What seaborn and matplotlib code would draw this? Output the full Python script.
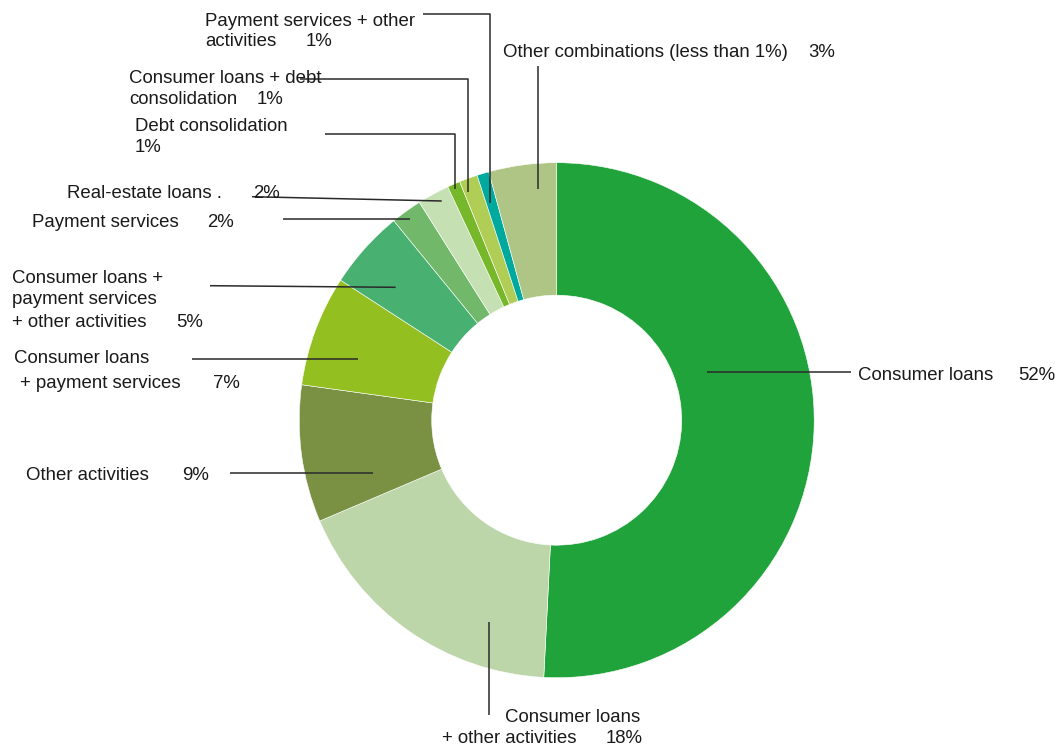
import matplotlib
matplotlib.use("Agg")
import matplotlib.pyplot as plt
import seaborn as sns

# slices, clockwise from 12 o'clock
categories = [
    "Consumer loans",
    "Consumer loans + other activities",
    "Other activities",
    "Consumer loans + payment services",
    "Consumer loans + payment services + other activities",
    "Payment services",
    "Real-estate loans",
    "Debt consolidation",
    "Consumer loans + debt consolidation",
    "Payment services + other activities",
    "Other combinations (less than 1%)",
]
# slice sizes as drawn (%), and the printed labels
shares = [50.8, 17.8, 8.6, 6.95, 4.95, 1.95, 2.0, 0.8, 1.15, 0.75, 4.25]
pct_labels = ["52%", "18%", "9%", "7%", "5%", "2%", "2%", "1%", "1%", "1%", "3%"]
colors = ["#20a33a", "#bcd6a9", "#7a9143", "#93c020", "#48b070", "#72b86b",
          "#c5e0b3", "#76b82a", "#b0cd55", "#00a99d", "#afc585"]

# text lines (x, baseline y, text), pct position, leader line points -- in pixels
layout = [
    ([(857.7, 380, "Consumer loans")], (1018.3, 380),
     [(706.7, 371.7), (850.7, 371.7)]),
    ([(640.5, 721.7, "Consumer loans|r"), (441.7, 743.3, "+ other activities")], (606.0, 743.3),
     [(489.3, 621.7), (489.3, 715)]),
    ([(26, 480, "Other activities")], (182.3, 480),
     [(230, 473.3), (373.3, 473.3)]),
    ([(14, 362.7, "Consumer loans"), (20, 387.7, "+ payment services")], (213.3, 387.7),
     [(192.3, 359.3), (357.7, 359.3)]),
    ([(12.3, 283.3, "Consumer loans +"), (12.3, 304.3, "payment services"),
      (12.3, 326.7, "+ other activities")], (176.7, 326.7),
     [(210, 285.7), (395.7, 287.3)]),
    ([(31.7, 226.7, "Payment services")], (206.7, 226.7),
     [(282.7, 219.3), (410, 219.3)]),
    ([(66.7, 198.3, "Real-estate loans .")], (253, 198.3),
     [(252, 196.7), (441.7, 201)]),
    ([(135, 130.7, "Debt consolidation")], (135, 152.3),
     [(325, 133.7), (455, 133.7), (455, 189)]),
    ([(129.3, 82.7, "Consumer loans + debt"), (129.3, 104.3, "consolidation")], (256.7, 104.3),
     [(300, 78.7), (468.3, 78.7), (468.3, 191.7)]),
    ([(205, 26, "Payment services + other"), (205, 46, "activities")], (306, 46),
     [(423, 14.3), (490, 14.3), (490, 203.3)]),
    ([(503.3, 56.7, "Other combinations (less than 1%)")], (808.3, 56.7),
     [(538.3, 65.7), (538.3, 189.3)]),
]

sns.set_theme(style="white")
plt.rcParams["font.family"] = ["Liberation Sans", "DejaVu Sans"]
palette = sns.color_palette(colors)

W, H = 1055, 749
fig = plt.figure(figsize=(W / 100, H / 100), dpi=100)
ax = fig.add_axes([0, 0, 1, 1])

cx, cy, r_out, r_in = 556.7, 420.2, 257.5, 125.0
ax.pie(shares, colors=palette, center=(cx, cy), radius=r_out,
       startangle=270, counterclock=True, frame=True,
       wedgeprops=dict(width=r_out - r_in, edgecolor="white", linewidth=0.4))

fs = 13.4
txt_color = "#1a1a1a"
for (lines, pct_pos, leader), pct in zip(layout, pct_labels):
    for x, y, t in lines:
        ha = "left"
        if t.endswith("|r"):
            t, ha = t[:-2], "right"
        ax.text(x, y, t, fontsize=fs, color=txt_color, ha=ha, va="baseline")
    ax.text(pct_pos[0], pct_pos[1], pct, fontsize=fs, color=txt_color,
            ha="left", va="baseline")
    xs = [p[0] for p in leader]
    ys = [p[1] for p in leader]
    ax.plot(xs, ys, color="#2a2a2a", linewidth=1.1, solid_capstyle="butt")

ax.set_xlim(0, W)
ax.set_ylim(H, 0)
ax.set_aspect("equal")
ax.set_axis_off()

fig.savefig("out.png", dpi=100, facecolor="white")
